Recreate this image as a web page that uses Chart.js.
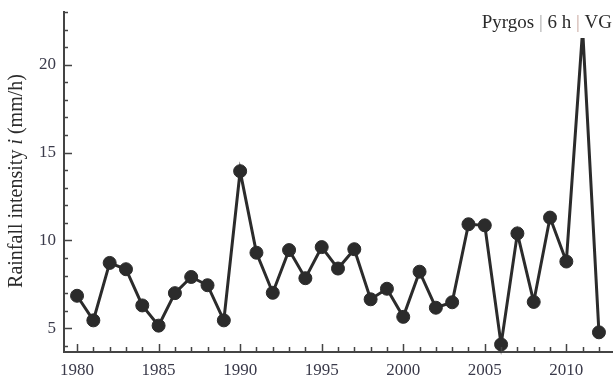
<!DOCTYPE html>
<html>
<head>
<meta charset="utf-8">
<script src="https://cdn.jsdelivr.net/npm/chart.js@4"></script>
<style>
  html, body { margin: 0; padding: 0; background: #fff; }
  #box { position: relative; width: 616px; height: 381px; }
</style>
</head>
<body>
<div id="box"><canvas id="rainChart"></canvas></div>
<script>
// dados
const years = [1980, 1981, 1982, 1983, 1984, 1985, 1986, 1987, 1988, 1989,
               1990, 1991, 1992, 1993, 1994, 1995, 1996, 1997, 1998, 1999,
               2000, 2001, 2002, 2003, 2004, 2005, 2006, 2007, 2008, 2009,
               2010, 2011, 2012];
const intensity = [6.85, 5.45, 8.72, 8.36, 6.3, 5.15, 7.0, 7.92, 7.45, 5.45,
                   13.94, 9.3, 7.02, 9.45, 7.85, 9.62, 8.4, 9.5, 6.65, 7.25,
                   5.65, 8.22, 6.17, 6.48, 10.92, 10.86, 4.08, 10.4, 6.5, 11.3,
                   8.8, 22.0, 4.77];
const yTicks = [5, 10, 15, 20];
const xTicks = [1980, 1985, 1990, 1995, 2000, 2005, 2010];

const ink = '#2b2b2b';
const serif = '"Liberation Serif", "DejaVu Serif", serif';

// ticks para dentro (major + minor)
const innerTicks = {
  id: 'innerTicks',
  afterDraw(chart) {
    const c = chart.ctx, a = chart.chartArea;
    const x = chart.scales.x, y = chart.scales.y;
    c.save();
    c.strokeStyle = '#444';
    c.lineWidth = 1.5;
    c.beginPath();
    for (let v = 4; v <= 23; v++) {
      const py = Math.round(y.getPixelForValue(v)) + 0.5;
      const len = v % 5 === 0 ? 8 : 4;
      c.moveTo(a.left, py); c.lineTo(a.left + len, py);
    }
    for (let v = 1980; v <= 2012; v++) {
      const px = Math.round(x.getPixelForValue(v)) + 0.5;
      const len = v % 5 === 0 ? 8 : 5;
      c.moveTo(px, a.bottom); c.lineTo(px, a.bottom - len);
    }
    c.stroke();
    c.restore();
  }
};

// titulo no canto + rótulo do eixo y com o "i" em itálico
const labels = {
  id: 'labels',
  afterDraw(chart) {
    const c = chart.ctx;
    c.save();
    // caixa branca por trás do título (tapa o topo do pico de 2011)
    c.fillStyle = '#fff';
    c.fillRect(476, 0, 140, 38);
    const parts = [['Pyrgos ', ink], ['|', '#a9a9a9'], [' 6 h ', ink], ['|', '#c9a9a0'], [' VG', ink]];
    c.font = '19px ' + serif;
    let w = 0;
    parts.forEach(p => { w += c.measureText(p[0]).width; });
    let x = 612 - w;
    parts.forEach(p => {
      c.fillStyle = p[1];
      c.fillText(p[0], x, 28);
      x += c.measureText(p[0]).width;
    });

    // eixo y
    const seg = [['Rainfall intensity ', 'normal'], ['i', 'italic'], [' (mm/h)', 'normal']];
    let total = 0;
    seg.forEach(s => { c.font = s[1] + ' 20px ' + serif; total += c.measureText(s[0]).width; });
    c.translate(22, 181);
    c.rotate(-Math.PI / 2);
    let sx = -total / 2;
    c.fillStyle = ink;
    seg.forEach(s => {
      c.font = s[1] + ' 20px ' + serif;
      c.fillText(s[0], sx, 0);
      sx += c.measureText(s[0]).width;
    });
    c.restore();
  }
};

const ctx = document.getElementById('rainChart').getContext('2d');

new Chart(ctx, {
  type: 'line',
  data: {
    datasets: [{
      data: years.map((yr, i) => ({ x: yr, y: intensity[i] })),
      borderColor: ink,
      borderWidth: 3,
      backgroundColor: ink,
      pointBackgroundColor: ink,
      pointBorderColor: ink,
      pointRadius: 6.5,
      pointBorderWidth: 1,
      tension: 0,
      clip: false
    }]
  },
  options: {
    responsive: true,
    maintainAspectRatio: false,
    animation: false,
    layout: { autoPadding: false, padding: { top: 12, right: 4, left: 0, bottom: 0 } },
    plugins: { legend: { display: false }, tooltip: { enabled: false } },
    scales: {
      x: {
        type: 'linear',
        min: 1979.2,
        max: 2012.8,
        afterBuildTicks: s => { s.ticks = xTicks.map(v => ({ value: v })); },
        afterFit: s => { s.height = 29; s.paddingLeft = 0; s.paddingRight = 0; },
        grid: { display: false, drawTicks: false },
        border: { display: true, color: '#444', width: 2 },
        ticks: {
          padding: 8,
          color: '#3a3a4a',
          font: { family: serif, size: 17 },
          maxRotation: 0,
          callback: v => String(v)
        }
      },
      y: {
        min: 3.65,
        max: 23,
        afterBuildTicks: s => { s.ticks = yTicks.map(v => ({ value: v })); },
        afterFit: s => { s.width = 64; s.paddingTop = 0; s.paddingBottom = 0; },
        grid: { display: false, drawTicks: false },
        border: { display: true, color: '#444', width: 2 },
        ticks: {
          padding: 8,
          color: '#3a3a4a',
          font: { family: serif, size: 17 },
          callback: v => String(v)
        }
      }
    }
  },
  plugins: [innerTicks, labels]
});
</script>
</body>
</html>
